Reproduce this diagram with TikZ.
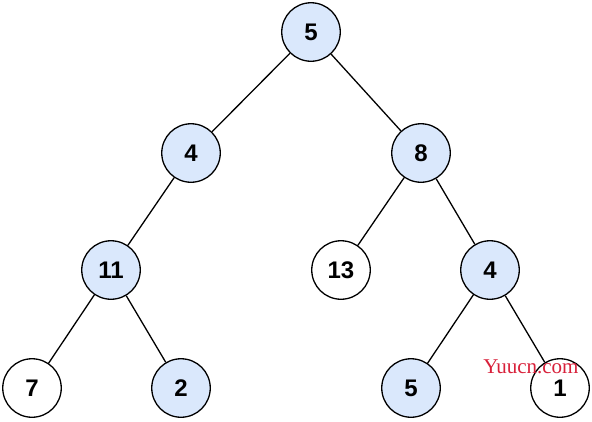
\documentclass[tikz,border=0pt]{standalone}
\usepackage{fontspec}
\setmainfont{Liberation Sans}
\newfontfamily\markfont{Liberation Serif}
\usetikzlibrary{positioning}
\definecolor{keyblue}{HTML}{DAE8FC}
\definecolor{markred}{HTML}{D8203A}

\begin{document}
\begin{tikzpicture}[
			x=1pt,
			y=-1pt,
			line width=1.3pt,
			treenode/.style={
					circle,
					draw,
					fill=white,
					minimum size=58.5pt, % Outer edge near 60px
					inner sep=0pt,
					font=\bfseries\fontsize{24}{26}\selectfont
				},
			onpath/.style={treenode, fill=keyblue}
		]
		\useasboundingbox (0,0) rectangle (592,421);

		% root and second level
		\node[onpath] (n0) at (311, 32) {5};
		\node[onpath] (n1) at (191, 153) {4};
		\node[onpath] (n2) at (421, 153) {8};

		% third level
		\node[onpath] (n3) at (111, 270) {11};
		\node[treenode] (n4) at (341, 270) {13};
		\node[onpath] (n5) at (490, 270) {4};

		% leaves
		\node[treenode] (n6) at (32, 388) {7};
		\node[onpath] (n7) at (181, 388) {2};
		\node[onpath] (n8) at (411, 388) {5};
		\node[treenode] (n9) at (560, 388) {1};

		\draw (n0) -- (n1);
		\draw (n0) -- (n2);
		\draw (n1) -- (n3);
		\draw (n2) -- (n4);
		\draw (n2) -- (n5);
		\draw (n3) -- (n6);
		\draw (n3) -- (n7);
		\draw (n5) -- (n8);
		\draw (n5) -- (n9);

		\node[text=markred, inner sep=0pt, font=\markfont\fontsize{21}{23}\selectfont] (mark) at (531, 367) {Yuucn.com};
	\end{tikzpicture}
\end{document}
